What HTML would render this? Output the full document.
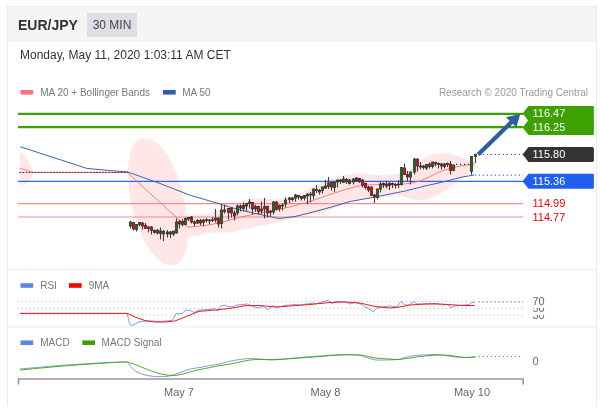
<!DOCTYPE html>
<html><head><meta charset="utf-8"><title>EUR/JPY</title>
<style>
html,body{margin:0;padding:0;background:#fff;}
body{width:600px;height:410px;position:relative;overflow:hidden;font-family:"Liberation Sans",sans-serif;}
.panel{position:absolute;left:7px;top:6px;width:588px;height:399px;border-left:1px solid #e8edf3;border-right:1px solid #e8edf3;border-top:1px solid #e8edf3;box-sizing:content-box;}
.hdr{position:absolute;left:0;top:0;width:588px;height:34.5px;background:#f5f5f5;}
.sym,.tf,.date{will-change:transform;}
.sym{position:absolute;left:18px;top:15.5px;font-size:14px;font-weight:bold;color:#333;line-height:18px;white-space:nowrap;}
.tf{position:absolute;left:87px;top:13px;width:50px;height:23.5px;background:#dcdfe6;color:#444;font-size:12px;line-height:25.5px;text-align:center;white-space:nowrap;}
.date{position:absolute;left:20px;top:47px;font-size:12px;color:#333;line-height:16px;white-space:nowrap;}
</style></head><body>
<div class="panel"><div class="hdr"></div></div>
<div class="sym">EUR/JPY</div>
<div class="tf">30 MIN</div>
<div class="date">Monday, May 11, 2020 1:03:11 AM CET</div>
<svg width="600" height="410" viewBox="0 0 600 410" style="position:absolute;left:0;top:0;will-change:transform" font-family="Liberation Sans, sans-serif">
<!-- separators -->
<rect x="8" y="269.3" width="588" height="1" fill="#e6eaef"/>
<rect x="8" y="326.4" width="588" height="1" fill="#e6eaef"/>
<!-- legends -->
<rect x="20.5" y="90" width="12.7" height="4.6" fill="#f7727c"/>
<text x="40.2" y="95.6" font-size="10" fill="#777">MA 20 + Bollinger Bands</text>
<rect x="163" y="90" width="12.7" height="4.6" fill="#2f5da8"/>
<text x="182.2" y="95.6" font-size="10" fill="#777">MA 50</text>
<text x="588" y="95.6" font-size="10" fill="#999" text-anchor="end">Research © 2020 Trading Central</text>
<!-- bollinger -->
<path d="M20,152 L23,154 L26,157.5 L28.5,160.5 L30.7,165 L32,170 L32.4,172.5 L31.7,177.5 L29,181 L24.5,184.2 L20,185.2Z" fill="#ffe7e7"/>
<path d="M127.5,172 C127.90,168.80 127.80,166.40 129,160 C130.20,153.60 129.60,153.20 132,148 C134.40,142.80 134.53,143.03 138,140.5 C141.47,137.97 141.13,138.63 145,138.5 C148.87,138.37 148.85,138.53 152.5,140 C156.15,141.47 155.15,140.80 158.7,144 C162.25,147.20 162.04,146.40 165.8,152 C169.56,157.60 169.33,157.53 172.8,165 C176.27,172.47 175.89,171.20 178.8,180 C181.71,188.80 181.65,190.00 183.7,198 C185.75,206.00 185.27,205.47 186.5,210 C187.73,214.53 184.70,213.77 188.3,215 C191.90,216.23 194.21,214.97 200,214.6 C205.79,214.23 204.67,215.09 210,213.6 C215.33,212.11 215.73,211.29 220,209 C224.27,206.71 220.67,206.87 226,205 C231.33,203.13 233.60,203.49 240,202 C246.40,200.51 244.67,200.31 250,199.4 C255.33,198.49 254.67,198.71 260,198.6 C265.33,198.49 264.67,198.89 270,199 C275.33,199.11 275.20,199.43 280,199 C284.80,198.57 282.67,199.00 288,197.4 C293.33,195.80 294.13,195.51 300,193 C305.87,190.49 304.67,190.67 310,188 C315.33,185.33 314.67,185.40 320,183 C325.33,180.60 324.67,180.87 330,179 C335.33,177.13 334.67,177.33 340,176 C345.33,174.67 344.67,174.64 350,174 C355.33,173.36 354.67,173.49 360,173.6 C365.33,173.71 364.67,174.03 370,174.4 C375.33,174.77 374.67,174.95 380,175 C385.33,175.05 384.93,175.03 390,174.6 C395.07,174.17 394.20,174.47 399,173.4 C403.80,172.33 403.09,173.11 408,170.6 C412.91,168.09 412.44,167.63 417.4,164 C422.36,160.37 421.72,159.67 426.6,157 C431.48,154.33 430.85,154.99 435.7,154 C440.55,153.01 439.92,153.11 444.8,153.3 C449.68,153.49 449.15,153.47 454,154.7 C458.85,155.93 458.63,156.33 463,157.9 C467.37,159.47 467.20,159.51 470.4,160.6 C473.60,161.69 473.77,161.63 475,162 L475,167 C473.77,168.47 473.60,169.57 470.4,172.5 C467.20,175.43 467.37,174.83 463,178 C458.63,181.17 458.85,180.99 454,184.4 C449.15,187.81 449.68,187.71 444.8,190.8 C439.92,193.89 440.55,193.81 435.7,196 C430.85,198.19 431.48,197.93 426.6,199 C421.72,200.07 422.36,200.27 417.4,200 C412.44,199.73 412.91,199.20 408,198 C403.09,196.80 403.80,196.03 399,195.5 C394.20,194.97 395.07,195.44 390,196 C384.93,196.56 385.33,196.96 380,197.6 C374.67,198.24 375.33,197.76 370,198.4 C364.67,199.04 365.33,198.93 360,200 C354.67,201.07 355.33,200.80 350,202.4 C344.67,204.00 345.33,203.97 340,206 C334.67,208.03 335.33,207.97 330,210 C324.67,212.03 325.33,212.27 320,213.6 C314.67,214.93 315.33,214.23 310,215 C304.67,215.77 305.33,215.43 300,216.5 C294.67,217.57 295.33,217.53 290,219 C284.67,220.47 285.33,220.67 280,222 C274.67,223.33 275.33,222.93 270,224 C264.67,225.07 265.33,224.93 260,226 C254.67,227.07 255.33,226.77 250,228 C244.67,229.23 245.33,229.43 240,230.6 C234.67,231.77 235.33,231.87 230,232.4 C224.67,232.93 225.33,232.44 220,232.6 C214.67,232.76 215.33,232.36 210,233 C204.67,233.64 205.79,233.67 200,235 C194.21,236.33 191.63,235.33 188.3,238 C184.97,240.67 188.38,241.00 187.5,245 C186.62,249.00 186.73,248.87 185,253 C183.27,257.13 183.40,257.49 181,260.5 C178.60,263.51 178.67,263.05 176,264.3 C173.33,265.55 173.67,265.28 171,265.2 C168.33,265.12 168.67,264.99 166,264 C163.33,263.01 165.08,264.97 161,261.5 C156.92,258.03 155.77,257.80 150.7,251 C145.63,244.20 146.08,244.53 142,236 C137.92,227.47 138.60,229.13 135.4,219 C132.20,208.87 131.84,208.13 130,198 C128.16,187.87 129.17,187.93 128.5,181 C127.83,174.07 127.77,174.40 127.5,172 Z" fill="#ffe7e7"/>
<!-- level lines -->
<line x1="18" x2="523" y1="113.8" y2="113.8" stroke="#3fa004" stroke-width="2.2"/>
<line x1="18" x2="523" y1="127.1" y2="127.1" stroke="#3fa004" stroke-width="2.2"/>
<line x1="18" x2="523" y1="203.6" y2="203.6" stroke="#f98a8a" stroke-width="1.1"/>
<line x1="18" x2="523" y1="217" y2="217" stroke="#f98a8a" stroke-width="1.1"/>
<line x1="18" x2="523" y1="181.3" y2="181.3" stroke="#2a66ee" stroke-width="1.25"/>
<!-- MA lines -->
<path d="M20,168.2 L31,171.8 L33,172.4 L127.3,172.4 L175.2,216.4 L188,227.3 L205,225.5 L222,222.5 L235,218.5 L250,215 L270,211 L290,207 L310,201.5 L330,194.5 L345,189.5 L355,186.8 L362,185.3 L375,184.6 L400,184.5 L410,183.3 L420,181 L430,176.5 L440,171.5 L450,168.5 L460,166 L474.5,164" fill="none" stroke="#fa6a6a" stroke-width="0.85"/>
<path d="M20.2,146.7 L86.8,168.4 L110,170.6 L127.3,171.8 L160,183.5 L189.5,195 L220,204 L240,210 L260,214.5 L279,218.5 L295,216.5 L317,211 L335,206 L350,201.5 L375,197 L405,191 L425,186 L445,181.5 L460,177.5 L474,175" fill="none" stroke="#3a66ad" stroke-width="1"/>
<line x1="19.3" x2="128" y1="172.45" y2="172.45" stroke="#6b2226" stroke-width="1" stroke-dasharray="1.8,1.27"/>
<!-- candles -->
<line x1="130.5" x2="130.5" y1="220.5" y2="228.5" stroke="#443a3a" stroke-width="1.1"/>
<rect x="129.3" y="222" width="2.4" height="4.0" fill="#1b6b1b" stroke="#3a3030" stroke-width="0.7"/>
<line x1="133.5" x2="133.5" y1="222" y2="230.5" stroke="#443a3a" stroke-width="1.1"/>
<rect x="132.3" y="222.5" width="2.4" height="6.5" fill="#e60000" stroke="#3a3030" stroke-width="0.7"/>
<line x1="136.5" x2="136.5" y1="224" y2="231.5" stroke="#443a3a" stroke-width="1.1"/>
<rect x="135.3" y="224.5" width="2.4" height="5.0" fill="#1b6b1b" stroke="#3a3030" stroke-width="0.7"/>
<line x1="139.5" x2="139.5" y1="222" y2="226.5" stroke="#443a3a" stroke-width="1.1"/>
<rect x="138.3" y="222.5" width="2.4" height="2.0" fill="#1b6b1b" stroke="#3a3030" stroke-width="0.7"/>
<line x1="142.5" x2="142.5" y1="222" y2="229.5" stroke="#443a3a" stroke-width="1.1"/>
<rect x="141.3" y="223" width="2.4" height="3.0" fill="#e60000" stroke="#3a3030" stroke-width="0.7"/>
<line x1="145.5" x2="145.5" y1="223" y2="229" stroke="#443a3a" stroke-width="1.1"/>
<rect x="144.3" y="225.5" width="2.4" height="3.0" fill="#e60000" stroke="#3a3030" stroke-width="0.7"/>
<line x1="148.5" x2="148.5" y1="226" y2="232.5" stroke="#443a3a" stroke-width="1.1"/>
<rect x="147.3" y="227" width="2.4" height="1.5" fill="#1b6b1b" stroke="#3a3030" stroke-width="0.7"/>
<line x1="151.5" x2="151.5" y1="226" y2="234.5" stroke="#443a3a" stroke-width="1.1"/>
<rect x="150.3" y="227" width="2.4" height="3.5" fill="#e60000" stroke="#3a3030" stroke-width="0.7"/>
<line x1="154.5" x2="154.5" y1="229.5" y2="233.5" stroke="#443a3a" stroke-width="1.1"/>
<rect x="153.3" y="230.5" width="2.4" height="2.0" fill="#e60000" stroke="#3a3030" stroke-width="0.7"/>
<line x1="157.5" x2="157.5" y1="229.5" y2="234.5" stroke="#443a3a" stroke-width="1.1"/>
<rect x="156.3" y="230" width="2.4" height="3.0" fill="#1b6b1b" stroke="#3a3030" stroke-width="0.7"/>
<line x1="160.5" x2="160.5" y1="227.5" y2="239.5" stroke="#443a3a" stroke-width="1.1"/>
<rect x="159.3" y="231" width="2.4" height="2.5" fill="#1b6b1b" stroke="#3a3030" stroke-width="0.7"/>
<line x1="163.5" x2="163.5" y1="230" y2="241" stroke="#443a3a" stroke-width="1.1"/>
<rect x="162.3" y="231.5" width="2.4" height="2.5" fill="#1b6b1b" stroke="#3a3030" stroke-width="0.7"/>
<line x1="167.5" x2="167.5" y1="230" y2="237.5" stroke="#443a3a" stroke-width="1.1"/>
<rect x="166.3" y="232" width="2.4" height="2.0" fill="#1b6b1b" stroke="#3a3030" stroke-width="0.7"/>
<line x1="170.5" x2="170.5" y1="231" y2="238" stroke="#443a3a" stroke-width="1.1"/>
<rect x="169.3" y="232" width="2.4" height="2.0" fill="#1b6b1b" stroke="#3a3030" stroke-width="0.7"/>
<line x1="173.5" x2="173.5" y1="231" y2="236" stroke="#443a3a" stroke-width="1.1"/>
<rect x="172.3" y="231" width="2.4" height="3.0" fill="#1b6b1b" stroke="#3a3030" stroke-width="0.7"/>
<line x1="176.5" x2="176.5" y1="218.5" y2="233.5" stroke="#443a3a" stroke-width="1.1"/>
<rect x="175.3" y="222" width="2.4" height="11.0" fill="#1b6b1b" stroke="#3a3030" stroke-width="0.7"/>
<line x1="179.5" x2="179.5" y1="220" y2="228.5" stroke="#443a3a" stroke-width="1.1"/>
<rect x="178.3" y="221.5" width="2.4" height="2.5" fill="#e60000" stroke="#3a3030" stroke-width="0.7"/>
<line x1="182.5" x2="182.5" y1="219" y2="226.5" stroke="#443a3a" stroke-width="1.1"/>
<rect x="181.3" y="221.5" width="2.4" height="3.0" fill="#e60000" stroke="#3a3030" stroke-width="0.7"/>
<line x1="185.5" x2="185.5" y1="217.5" y2="225.5" stroke="#443a3a" stroke-width="1.1"/>
<rect x="184.3" y="218.5" width="2.4" height="6.0" fill="#1b6b1b" stroke="#3a3030" stroke-width="0.7"/>
<line x1="188.5" x2="188.5" y1="217" y2="221" stroke="#443a3a" stroke-width="1.1"/>
<rect x="187.3" y="217.5" width="2.4" height="1.5" fill="#1b6b1b" stroke="#3a3030" stroke-width="0.7"/>
<line x1="191.5" x2="191.5" y1="216" y2="223.5" stroke="#443a3a" stroke-width="1.1"/>
<rect x="190.3" y="217" width="2.4" height="5.0" fill="#e60000" stroke="#3a3030" stroke-width="0.7"/>
<line x1="194.5" x2="194.5" y1="220.5" y2="226.5" stroke="#443a3a" stroke-width="1.1"/>
<rect x="193.3" y="222" width="2.4" height="1.5" fill="#e60000" stroke="#3a3030" stroke-width="0.7"/>
<line x1="197.5" x2="197.5" y1="219" y2="224" stroke="#443a3a" stroke-width="1.1"/>
<rect x="196.3" y="220.5" width="2.4" height="2.5" fill="#1b6b1b" stroke="#3a3030" stroke-width="0.7"/>
<line x1="200.5" x2="200.5" y1="219" y2="225.5" stroke="#443a3a" stroke-width="1.1"/>
<rect x="199.3" y="220.5" width="2.4" height="2.5" fill="#e60000" stroke="#3a3030" stroke-width="0.7"/>
<line x1="203.5" x2="203.5" y1="219" y2="226.5" stroke="#443a3a" stroke-width="1.1"/>
<rect x="202.3" y="220" width="2.4" height="2.5" fill="#1b6b1b" stroke="#3a3030" stroke-width="0.7"/>
<line x1="206.5" x2="206.5" y1="218" y2="222.5" stroke="#443a3a" stroke-width="1.1"/>
<rect x="205.3" y="219.7" width="2.4" height="0.8" fill="#5a2a2a" stroke="#3a3030" stroke-width="0.7"/>
<line x1="209.5" x2="209.5" y1="219" y2="224" stroke="#443a3a" stroke-width="1.1"/>
<rect x="208.3" y="220" width="2.4" height="1.0" fill="#e60000" stroke="#3a3030" stroke-width="0.7"/>
<line x1="212.5" x2="212.5" y1="217" y2="222" stroke="#443a3a" stroke-width="1.1"/>
<rect x="211.3" y="219.7" width="2.4" height="0.8" fill="#1b6b1b" stroke="#3a3030" stroke-width="0.7"/>
<line x1="215.5" x2="215.5" y1="209" y2="222.5" stroke="#443a3a" stroke-width="1.1"/>
<rect x="214.3" y="218" width="2.4" height="2.0" fill="#1b6b1b" stroke="#3a3030" stroke-width="0.7"/>
<line x1="218.5" x2="218.5" y1="217.5" y2="227.5" stroke="#443a3a" stroke-width="1.1"/>
<rect x="217.3" y="218" width="2.4" height="6.0" fill="#e60000" stroke="#3a3030" stroke-width="0.7"/>
<line x1="221.5" x2="221.5" y1="204" y2="228.5" stroke="#443a3a" stroke-width="1.1"/>
<rect x="220.3" y="210" width="2.4" height="13.5" fill="#1b6b1b" stroke="#3a3030" stroke-width="0.7"/>
<line x1="224.5" x2="224.5" y1="204.5" y2="213.5" stroke="#443a3a" stroke-width="1.1"/>
<rect x="223.3" y="210" width="2.4" height="1.5" fill="#e60000" stroke="#3a3030" stroke-width="0.7"/>
<line x1="228.5" x2="228.5" y1="208" y2="219.5" stroke="#443a3a" stroke-width="1.1"/>
<rect x="227.3" y="208.5" width="2.4" height="4.0" fill="#1b6b1b" stroke="#3a3030" stroke-width="0.7"/>
<line x1="231.5" x2="231.5" y1="207" y2="217.5" stroke="#443a3a" stroke-width="1.1"/>
<rect x="230.3" y="208" width="2.4" height="5.0" fill="#e60000" stroke="#3a3030" stroke-width="0.7"/>
<line x1="234.5" x2="234.5" y1="210.5" y2="220.5" stroke="#443a3a" stroke-width="1.1"/>
<rect x="233.3" y="213" width="2.4" height="3.0" fill="#5a2a2a" stroke="#3a3030" stroke-width="0.7"/>
<line x1="237.5" x2="237.5" y1="204.5" y2="215.5" stroke="#443a3a" stroke-width="1.1"/>
<rect x="236.3" y="206" width="2.4" height="7.0" fill="#1b6b1b" stroke="#3a3030" stroke-width="0.7"/>
<line x1="240.5" x2="240.5" y1="204.5" y2="211.5" stroke="#443a3a" stroke-width="1.1"/>
<rect x="239.3" y="206" width="2.4" height="2.0" fill="#5a2a2a" stroke="#3a3030" stroke-width="0.7"/>
<line x1="243.5" x2="243.5" y1="202.5" y2="211.5" stroke="#443a3a" stroke-width="1.1"/>
<rect x="242.3" y="205.5" width="2.4" height="3.0" fill="#5a2a2a" stroke="#3a3030" stroke-width="0.7"/>
<line x1="246.5" x2="246.5" y1="203" y2="211" stroke="#443a3a" stroke-width="1.1"/>
<rect x="245.3" y="203.5" width="2.4" height="2.5" fill="#1b6b1b" stroke="#3a3030" stroke-width="0.7"/>
<line x1="249.5" x2="249.5" y1="199" y2="208.5" stroke="#443a3a" stroke-width="1.1"/>
<rect x="248.3" y="202" width="2.4" height="1.5" fill="#1b6b1b" stroke="#3a3030" stroke-width="0.7"/>
<line x1="252.5" x2="252.5" y1="202" y2="214.5" stroke="#443a3a" stroke-width="1.1"/>
<rect x="251.3" y="202.5" width="2.4" height="6.5" fill="#e60000" stroke="#3a3030" stroke-width="0.7"/>
<line x1="255.5" x2="255.5" y1="204.5" y2="212" stroke="#443a3a" stroke-width="1.1"/>
<rect x="254.3" y="206.5" width="2.4" height="2.5" fill="#1b6b1b" stroke="#3a3030" stroke-width="0.7"/>
<line x1="258.5" x2="258.5" y1="205.5" y2="214.5" stroke="#443a3a" stroke-width="1.1"/>
<rect x="257.3" y="206.5" width="2.4" height="5.0" fill="#e60000" stroke="#3a3030" stroke-width="0.7"/>
<line x1="261.5" x2="261.5" y1="201.5" y2="214" stroke="#443a3a" stroke-width="1.1"/>
<rect x="260.3" y="209" width="2.4" height="2.0" fill="#1b6b1b" stroke="#3a3030" stroke-width="0.7"/>
<line x1="264.5" x2="264.5" y1="198" y2="218.5" stroke="#443a3a" stroke-width="1.1"/>
<rect x="263.3" y="206.5" width="2.4" height="2.5" fill="#1b6b1b" stroke="#3a3030" stroke-width="0.7"/>
<line x1="267.5" x2="267.5" y1="205.5" y2="217.5" stroke="#443a3a" stroke-width="1.1"/>
<rect x="266.3" y="206.5" width="2.4" height="6.5" fill="#e60000" stroke="#3a3030" stroke-width="0.7"/>
<line x1="270.5" x2="270.5" y1="210" y2="216.5" stroke="#443a3a" stroke-width="1.1"/>
<rect x="269.3" y="211.6" width="2.4" height="0.8" fill="#1b6b1b" stroke="#3a3030" stroke-width="0.7"/>
<line x1="273.5" x2="273.5" y1="201" y2="214.5" stroke="#443a3a" stroke-width="1.1"/>
<rect x="272.3" y="202" width="2.4" height="10.0" fill="#1b6b1b" stroke="#3a3030" stroke-width="0.7"/>
<line x1="276.5" x2="276.5" y1="201" y2="210.5" stroke="#443a3a" stroke-width="1.1"/>
<rect x="275.3" y="202" width="2.4" height="7.5" fill="#e60000" stroke="#3a3030" stroke-width="0.7"/>
<line x1="279.5" x2="279.5" y1="204.5" y2="211.5" stroke="#443a3a" stroke-width="1.1"/>
<rect x="278.3" y="205.5" width="2.4" height="3.0" fill="#1b6b1b" stroke="#3a3030" stroke-width="0.7"/>
<line x1="282.5" x2="282.5" y1="203.5" y2="210.5" stroke="#443a3a" stroke-width="1.1"/>
<rect x="281.3" y="205.1" width="2.4" height="0.8" fill="#1b6b1b" stroke="#3a3030" stroke-width="0.7"/>
<line x1="285.5" x2="285.5" y1="197.5" y2="207.5" stroke="#443a3a" stroke-width="1.1"/>
<rect x="284.3" y="200" width="2.4" height="4.0" fill="#1b6b1b" stroke="#3a3030" stroke-width="0.7"/>
<line x1="289.5" x2="289.5" y1="197" y2="203" stroke="#443a3a" stroke-width="1.1"/>
<rect x="288.3" y="198" width="2.4" height="1.5" fill="#1b6b1b" stroke="#3a3030" stroke-width="0.7"/>
<line x1="292.5" x2="292.5" y1="197" y2="201.5" stroke="#443a3a" stroke-width="1.1"/>
<rect x="291.3" y="198" width="2.4" height="1.5" fill="#5a2a2a" stroke="#3a3030" stroke-width="0.7"/>
<line x1="295.5" x2="295.5" y1="194" y2="201.5" stroke="#443a3a" stroke-width="1.1"/>
<rect x="294.3" y="195" width="2.4" height="3.0" fill="#1b6b1b" stroke="#3a3030" stroke-width="0.7"/>
<line x1="298.5" x2="298.5" y1="195" y2="199.5" stroke="#443a3a" stroke-width="1.1"/>
<rect x="297.3" y="195.5" width="2.4" height="1.5" fill="#5a2a2a" stroke="#3a3030" stroke-width="0.7"/>
<line x1="301.5" x2="301.5" y1="196" y2="200.5" stroke="#443a3a" stroke-width="1.1"/>
<rect x="300.3" y="196.5" width="2.4" height="2.0" fill="#5a2a2a" stroke="#3a3030" stroke-width="0.7"/>
<line x1="304.5" x2="304.5" y1="195" y2="200.5" stroke="#443a3a" stroke-width="1.1"/>
<rect x="303.3" y="195.5" width="2.4" height="2.5" fill="#1b6b1b" stroke="#3a3030" stroke-width="0.7"/>
<line x1="307.5" x2="307.5" y1="193" y2="204.5" stroke="#443a3a" stroke-width="1.1"/>
<rect x="306.3" y="194.5" width="2.4" height="1.5" fill="#1b6b1b" stroke="#3a3030" stroke-width="0.7"/>
<line x1="310.5" x2="310.5" y1="192" y2="202.5" stroke="#443a3a" stroke-width="1.1"/>
<rect x="309.3" y="194" width="2.4" height="1.0" fill="#5a2a2a" stroke="#3a3030" stroke-width="0.7"/>
<line x1="313.5" x2="313.5" y1="188.5" y2="199.5" stroke="#443a3a" stroke-width="1.1"/>
<rect x="312.3" y="189" width="2.4" height="6.5" fill="#1b6b1b" stroke="#3a3030" stroke-width="0.7"/>
<line x1="316.5" x2="316.5" y1="185" y2="193" stroke="#443a3a" stroke-width="1.1"/>
<rect x="315.3" y="189.5" width="2.4" height="1.0" fill="#e60000" stroke="#3a3030" stroke-width="0.7"/>
<line x1="319.5" x2="319.5" y1="189" y2="194.5" stroke="#443a3a" stroke-width="1.1"/>
<rect x="318.3" y="190.5" width="2.4" height="1.5" fill="#5a2a2a" stroke="#3a3030" stroke-width="0.7"/>
<line x1="322.5" x2="322.5" y1="186.5" y2="193.5" stroke="#443a3a" stroke-width="1.1"/>
<rect x="321.3" y="187" width="2.4" height="3.5" fill="#1b6b1b" stroke="#3a3030" stroke-width="0.7"/>
<line x1="325.5" x2="325.5" y1="180" y2="189" stroke="#443a3a" stroke-width="1.1"/>
<rect x="324.3" y="186" width="2.4" height="2.0" fill="#5a2a2a" stroke="#3a3030" stroke-width="0.7"/>
<line x1="328.5" x2="328.5" y1="177" y2="189" stroke="#443a3a" stroke-width="1.1"/>
<rect x="327.3" y="183" width="2.4" height="3.5" fill="#1b6b1b" stroke="#3a3030" stroke-width="0.7"/>
<line x1="331.5" x2="331.5" y1="182" y2="190.5" stroke="#443a3a" stroke-width="1.1"/>
<rect x="330.3" y="182.5" width="2.4" height="4.5" fill="#e60000" stroke="#3a3030" stroke-width="0.7"/>
<line x1="334.5" x2="334.5" y1="182" y2="192" stroke="#443a3a" stroke-width="1.1"/>
<rect x="333.3" y="182.5" width="2.4" height="5.0" fill="#1b6b1b" stroke="#3a3030" stroke-width="0.7"/>
<line x1="337.5" x2="337.5" y1="179.5" y2="187.5" stroke="#443a3a" stroke-width="1.1"/>
<rect x="336.3" y="180" width="2.4" height="2.0" fill="#1b6b1b" stroke="#3a3030" stroke-width="0.7"/>
<line x1="340.5" x2="340.5" y1="179" y2="184" stroke="#443a3a" stroke-width="1.1"/>
<rect x="339.3" y="180" width="2.4" height="1.0" fill="#5a2a2a" stroke="#3a3030" stroke-width="0.7"/>
<line x1="343.5" x2="343.5" y1="176" y2="182.5" stroke="#443a3a" stroke-width="1.1"/>
<rect x="342.3" y="179" width="2.4" height="3.5" fill="#1b6b1b" stroke="#3a3030" stroke-width="0.7"/>
<line x1="346.5" x2="346.5" y1="178" y2="184" stroke="#443a3a" stroke-width="1.1"/>
<rect x="345.3" y="179.5" width="2.4" height="2.0" fill="#e60000" stroke="#3a3030" stroke-width="0.7"/>
<line x1="349.5" x2="349.5" y1="179" y2="184.5" stroke="#443a3a" stroke-width="1.1"/>
<rect x="348.3" y="180" width="2.4" height="3.5" fill="#5a2a2a" stroke="#3a3030" stroke-width="0.7"/>
<line x1="353.5" x2="353.5" y1="178" y2="184.5" stroke="#443a3a" stroke-width="1.1"/>
<rect x="352.3" y="179" width="2.4" height="3.0" fill="#1b6b1b" stroke="#3a3030" stroke-width="0.7"/>
<line x1="356.5" x2="356.5" y1="177" y2="182" stroke="#443a3a" stroke-width="1.1"/>
<rect x="355.3" y="178" width="2.4" height="3.0" fill="#5a2a2a" stroke="#3a3030" stroke-width="0.7"/>
<line x1="359.5" x2="359.5" y1="178" y2="183" stroke="#443a3a" stroke-width="1.1"/>
<rect x="358.3" y="178.5" width="2.4" height="3.0" fill="#5a2a2a" stroke="#3a3030" stroke-width="0.7"/>
<line x1="362.5" x2="362.5" y1="179" y2="187.5" stroke="#443a3a" stroke-width="1.1"/>
<rect x="361.3" y="180" width="2.4" height="5.0" fill="#e60000" stroke="#3a3030" stroke-width="0.7"/>
<line x1="365.5" x2="365.5" y1="182.5" y2="189.5" stroke="#443a3a" stroke-width="1.1"/>
<rect x="364.3" y="183.5" width="2.4" height="4.0" fill="#e60000" stroke="#3a3030" stroke-width="0.7"/>
<line x1="368.5" x2="368.5" y1="186" y2="192" stroke="#443a3a" stroke-width="1.1"/>
<rect x="367.3" y="187" width="2.4" height="3.0" fill="#5a2a2a" stroke="#3a3030" stroke-width="0.7"/>
<line x1="371.5" x2="371.5" y1="186.5" y2="196" stroke="#443a3a" stroke-width="1.1"/>
<rect x="370.3" y="187" width="2.4" height="8.5" fill="#e60000" stroke="#3a3030" stroke-width="0.7"/>
<line x1="374.5" x2="374.5" y1="194" y2="203" stroke="#443a3a" stroke-width="1.1"/>
<rect x="373.3" y="195" width="2.4" height="2.0" fill="#e60000" stroke="#3a3030" stroke-width="0.7"/>
<line x1="377.5" x2="377.5" y1="188.5" y2="199.5" stroke="#443a3a" stroke-width="1.1"/>
<rect x="376.3" y="189" width="2.4" height="8.5" fill="#1b6b1b" stroke="#3a3030" stroke-width="0.7"/>
<line x1="380.5" x2="380.5" y1="182" y2="192.5" stroke="#443a3a" stroke-width="1.1"/>
<rect x="379.3" y="184" width="2.4" height="5.0" fill="#1b6b1b" stroke="#3a3030" stroke-width="0.7"/>
<line x1="383.5" x2="383.5" y1="182.5" y2="188" stroke="#443a3a" stroke-width="1.1"/>
<rect x="382.3" y="183.5" width="2.4" height="1.5" fill="#5a2a2a" stroke="#3a3030" stroke-width="0.7"/>
<line x1="386.5" x2="386.5" y1="180.5" y2="188.5" stroke="#443a3a" stroke-width="1.1"/>
<rect x="385.3" y="184" width="2.4" height="2.0" fill="#e60000" stroke="#3a3030" stroke-width="0.7"/>
<line x1="389.5" x2="389.5" y1="182" y2="190" stroke="#443a3a" stroke-width="1.1"/>
<rect x="388.3" y="183.5" width="2.4" height="2.0" fill="#5a2a2a" stroke="#3a3030" stroke-width="0.7"/>
<line x1="392.5" x2="392.5" y1="182.5" y2="188" stroke="#443a3a" stroke-width="1.1"/>
<rect x="391.3" y="183.5" width="2.4" height="1.0" fill="#e60000" stroke="#3a3030" stroke-width="0.7"/>
<line x1="395.5" x2="395.5" y1="183" y2="188.5" stroke="#443a3a" stroke-width="1.1"/>
<rect x="394.3" y="184.6" width="2.4" height="0.8" fill="#e60000" stroke="#3a3030" stroke-width="0.7"/>
<line x1="398.5" x2="398.5" y1="180" y2="188" stroke="#443a3a" stroke-width="1.1"/>
<rect x="397.3" y="184.1" width="2.4" height="0.8" fill="#5a2a2a" stroke="#3a3030" stroke-width="0.7"/>
<line x1="401.5" x2="401.5" y1="167" y2="185.5" stroke="#443a3a" stroke-width="1.1"/>
<rect x="400.3" y="167.5" width="2.4" height="17.0" fill="#1b6b1b" stroke="#3a3030" stroke-width="0.7"/>
<line x1="404.5" x2="404.5" y1="163.5" y2="175" stroke="#443a3a" stroke-width="1.1"/>
<rect x="403.3" y="168" width="2.4" height="6.5" fill="#e60000" stroke="#3a3030" stroke-width="0.7"/>
<line x1="407.5" x2="407.5" y1="171" y2="181" stroke="#443a3a" stroke-width="1.1"/>
<rect x="406.3" y="174.5" width="2.4" height="2.5" fill="#e60000" stroke="#3a3030" stroke-width="0.7"/>
<line x1="410.5" x2="410.5" y1="171.5" y2="184.5" stroke="#443a3a" stroke-width="1.1"/>
<rect x="409.3" y="172" width="2.4" height="5.0" fill="#1b6b1b" stroke="#3a3030" stroke-width="0.7"/>
<line x1="414.5" x2="414.5" y1="158" y2="174.5" stroke="#443a3a" stroke-width="1.1"/>
<rect x="413.3" y="159" width="2.4" height="13.0" fill="#1b6b1b" stroke="#3a3030" stroke-width="0.7"/>
<line x1="417.5" x2="417.5" y1="158.5" y2="171.5" stroke="#443a3a" stroke-width="1.1"/>
<rect x="416.3" y="159" width="2.4" height="7.0" fill="#e60000" stroke="#3a3030" stroke-width="0.7"/>
<line x1="420.5" x2="420.5" y1="162" y2="169.5" stroke="#443a3a" stroke-width="1.1"/>
<rect x="419.3" y="166" width="2.4" height="1.0" fill="#5a2a2a" stroke="#3a3030" stroke-width="0.7"/>
<line x1="423.5" x2="423.5" y1="165" y2="169.5" stroke="#443a3a" stroke-width="1.1"/>
<rect x="422.3" y="166" width="2.4" height="1.5" fill="#5a2a2a" stroke="#3a3030" stroke-width="0.7"/>
<line x1="426.5" x2="426.5" y1="164" y2="170" stroke="#443a3a" stroke-width="1.1"/>
<rect x="425.3" y="164.5" width="2.4" height="3.5" fill="#1b6b1b" stroke="#3a3030" stroke-width="0.7"/>
<line x1="429.5" x2="429.5" y1="162.5" y2="168.5" stroke="#443a3a" stroke-width="1.1"/>
<rect x="428.3" y="164" width="2.4" height="2.5" fill="#e60000" stroke="#3a3030" stroke-width="0.7"/>
<line x1="432.5" x2="432.5" y1="161.5" y2="168.5" stroke="#443a3a" stroke-width="1.1"/>
<rect x="431.3" y="162" width="2.4" height="4.5" fill="#1b6b1b" stroke="#3a3030" stroke-width="0.7"/>
<line x1="435.5" x2="435.5" y1="161.5" y2="166.5" stroke="#443a3a" stroke-width="1.1"/>
<rect x="434.3" y="162.5" width="2.4" height="1.5" fill="#e60000" stroke="#3a3030" stroke-width="0.7"/>
<line x1="438.5" x2="438.5" y1="162.5" y2="168.5" stroke="#443a3a" stroke-width="1.1"/>
<rect x="437.3" y="163.6" width="2.4" height="0.8" fill="#5a2a2a" stroke="#3a3030" stroke-width="0.7"/>
<line x1="441.5" x2="441.5" y1="163" y2="169.5" stroke="#443a3a" stroke-width="1.1"/>
<rect x="440.3" y="164" width="2.4" height="2.0" fill="#e60000" stroke="#3a3030" stroke-width="0.7"/>
<line x1="444.5" x2="444.5" y1="163" y2="168.5" stroke="#443a3a" stroke-width="1.1"/>
<rect x="443.3" y="164" width="2.4" height="2.5" fill="#1b6b1b" stroke="#3a3030" stroke-width="0.7"/>
<line x1="447.5" x2="447.5" y1="162.5" y2="167" stroke="#443a3a" stroke-width="1.1"/>
<rect x="446.3" y="163.6" width="2.4" height="0.8" fill="#5a2a2a" stroke="#3a3030" stroke-width="0.7"/>
<line x1="450.5" x2="450.5" y1="161" y2="174.5" stroke="#443a3a" stroke-width="1.1"/>
<rect x="449.3" y="164" width="2.4" height="6.5" fill="#e60000" stroke="#3a3030" stroke-width="0.7"/>
<line x1="453.5" x2="453.5" y1="164.5" y2="171" stroke="#443a3a" stroke-width="1.1"/>
<rect x="452.3" y="165" width="2.4" height="5.5" fill="#1b6b1b" stroke="#3a3030" stroke-width="0.7"/>
<line x1="471.5" x2="471.5" y1="156" y2="174.8" stroke="#443a3a" stroke-width="1.1"/>
<rect x="470.3" y="156.6" width="2.4" height="14.9" fill="#1b6b1b" stroke="#3a3030" stroke-width="0.7"/>
<line x1="475.5" x2="475.5" y1="154" y2="163" stroke="#443a3a" stroke-width="1.1"/>
<rect x="474.3" y="154.2" width="2.4" height="2.2" fill="#1b6b1b" stroke="#3a3030" stroke-width="0.7"/>
<line x1="456" x2="471" y1="164.3" y2="164.3" stroke="#333" stroke-width="1.2" stroke-dasharray="1.2,2.8"/>
<line x1="482.8" x2="523" y1="154.5" y2="154.5" stroke="#554c4c" stroke-width="1.15" stroke-dasharray="1.2,2.8"/>
<line x1="474.7" x2="523" y1="175.1" y2="175.1" stroke="#3b74e8" stroke-width="1.15" stroke-dasharray="1.2,2.8"/>
<!-- arrow -->
<line x1="478.2" y1="154.4" x2="512" y2="121.6" stroke="#2d5c9f" stroke-width="4.2"/>
<path d="M520.2,113.9 L506,117.2 L516.4,127.3 Z" fill="#2d5c9f"/>
<!-- tags -->
<path d="M522.6,113.5 L528.5,106.0 L593.9,106.0 Q593.9,106.0 593.9,106.0 L593.9,121.0 Q593.9,121.0 593.9,121.0 L528.5,121.0 Z" fill="#3fa004"/><text x="532.5" y="117.4" fill="#fff" font-size="11">116.47</text>
<path d="M522.6,127.4 L528.5,119.9 L593.9,119.9 Q593.9,119.9 593.9,119.9 L593.9,134.9 Q593.9,134.9 593.9,134.9 L528.5,134.9 Z" fill="#3fa004"/><text x="532.5" y="131.3" fill="#fff" font-size="11">116.25</text>
<path d="M522.6,154.5 L528.5,147.0 L592.1,147.0 Q593.9,147.0 593.9,148.8 L593.9,160.2 Q593.9,162.0 592.1,162.0 L528.5,162.0 Z" fill="#333"/><text x="532.5" y="158.4" fill="#fff" font-size="11">115.80</text>
<path d="M522.6,181.2 L528.5,173.7 L592.6999999999999,173.7 Q593.9,173.7 593.9,174.89999999999998 L593.9,187.5 Q593.9,188.7 592.6999999999999,188.7 L528.5,188.7 Z" fill="#1f5ff0"/><text x="532.5" y="185.1" fill="#fff" font-size="11">115.36</text>
<text x="532.5" y="206.7" font-size="11" fill="#f00000">114.99</text>
<text x="532.5" y="221" font-size="11" fill="#f00000">114.77</text>
<!-- RSI -->
<rect x="20.5" y="283.2" width="12.7" height="4.6" fill="#5b86e5"/>
<text x="40.2" y="289" font-size="10" fill="#777">RSI</text>
<rect x="69" y="283.2" width="12.7" height="4.6" fill="#f00"/>
<text x="88.7" y="289" font-size="10" fill="#777">9MA</text>
<g stroke="#bbb" stroke-width="1" stroke-dasharray="1,3">
<line x1="17.9" x2="523.5" y1="301.5" y2="301.5"/>
<line x1="17.9" x2="523.5" y1="308.4" y2="308.4"/>
<line x1="17.9" x2="523.5" y1="315.2" y2="315.2"/>
</g>
<path d="M20,313.4 L127.4,313.4 L128.5,320 L130,324.4 L132,325.5 L135,324 L140,321.5 L150,321 L160,321.5 L172,320.5 L175,316 L176,313.5 L182,313.5 L186,310 L190,310.5 L194,312.5 L197,311 L200,310 L210,309.5 L214,308.5 L218,311 L221,306 L224,305 L228,306.5 L232,307 L237,305 L248,304 L252,306 L258,308 L263,306.5 L268,309.5 L273,305.5 L277,307.5 L285,305.5 L295,304.5 L300,305 L313,303 L316,304 L322,302 L328,300.5 L332,303.5 L336,301.5 L345,301.8 L350,304 L355,302.5 L362,304.5 L365,307 L368,308 L373,312 L378,307.5 L385,306.5 L390,306 L397,307 L401,301.5 L405,305 L409,305 L414,301.5 L417,304 L425,304 L430,303.5 L437,303.5 L442,305 L448,304.5 L451,308 L454,306 L465,305 L469.3,304.5 L471.5,302.6 L475.3,302" fill="none" stroke="#6a94ee" stroke-width="0.9" stroke-linejoin="round"/>
<path d="M20,313.4 L127.4,313.4 L135,317 L145,320.5 L155,322 L165,322 L175,321 L185,317 L199,311.4 L215,310 L230,308.4 L245,305.7 L260,305.5 L275,307 L290,306 L310,304.5 L330,302.5 L345,302 L360,303 L375,306.5 L390,308 L400,307 L410,305 L425,304 L440,304 L455,305 L465,305.5 L474.7,305.5" fill="none" stroke="#f01818" stroke-width="1.0" stroke-linejoin="round"/>
<line x1="478.7" x2="523" y1="302" y2="302" stroke="#5b86e5" stroke-width="1.15" stroke-dasharray="1.2,2.8"/>
<text x="532.5" y="319.4" font-size="11" fill="#666">30</text>
<rect x="530" y="301" width="20" height="14" fill="#fff"/>
<text x="532.5" y="312.4" font-size="11" fill="#666">50</text>
<rect x="530" y="294" width="20" height="14" fill="#fff"/>
<text x="532.5" y="305.2" font-size="11" fill="#666">70</text>
<!-- MACD -->
<rect x="20.5" y="340.4" width="12.7" height="4.6" fill="#5b86e5"/>
<text x="40.2" y="346.3" font-size="10" fill="#777">MACD</text>
<rect x="82.3" y="340.4" width="12.7" height="4.6" fill="#3fa004"/>
<text x="101.6" y="346.3" font-size="10" fill="#777">MACD Signal</text>
<path d="M20,369 C26.67,368.42 46.67,366.50 60,365.5 C73.33,364.50 90.00,363.57 100,363 C110.00,362.43 115.67,362.27 120,362.1 C124.33,361.93 124.67,361.88 126,362 C127.33,362.12 127.33,362.22 128,362.8 C128.67,363.38 129.33,364.63 130,365.5 C130.67,366.37 130.83,366.92 132,368 C133.17,369.08 134.83,370.83 137,372 C139.17,373.17 142.00,374.25 145,375 C148.00,375.75 151.67,376.25 155,376.5 C158.33,376.75 162.17,376.67 165,376.5 C167.83,376.33 169.50,376.17 172,375.5 C174.50,374.83 177.00,373.58 180,372.5 C183.00,371.42 186.67,369.83 190,369 C193.33,368.17 196.67,368.08 200,367.5 C203.33,366.92 206.67,366.08 210,365.5 C213.33,364.92 217.00,364.67 220,364 C223.00,363.33 224.67,362.25 228,361.5 C231.33,360.75 236.33,360.00 240,359.5 C243.67,359.00 246.67,358.58 250,358.5 C253.33,358.42 256.67,358.75 260,359 C263.33,359.25 266.67,359.92 270,360 C273.33,360.08 276.67,359.75 280,359.5 C283.33,359.25 286.67,358.83 290,358.5 C293.33,358.17 295.00,357.92 300,357.5 C305.00,357.08 314.17,356.42 320,356 C325.83,355.58 330.83,355.25 335,355 C339.17,354.75 340.83,354.42 345,354.5 C349.17,354.58 356.17,354.92 360,355.5 C363.83,356.08 365.33,357.25 368,358 C370.67,358.75 373.17,359.67 376,360 C378.83,360.33 381.33,360.08 385,360 C388.67,359.92 394.67,359.92 398,359.5 C401.33,359.08 402.17,358.17 405,357.5 C407.83,356.83 411.67,355.92 415,355.5 C418.33,355.08 421.67,355.17 425,355 C428.33,354.83 431.67,354.42 435,354.5 C438.33,354.58 441.67,355.08 445,355.5 C448.33,355.92 451.67,356.67 455,357 C458.33,357.33 462.17,357.50 465,357.5 C467.83,357.50 470.25,357.17 472,357 C473.75,356.83 474.92,356.58 475.5,356.5" fill="none" stroke="#6a94ee" stroke-width="0.9" stroke-linejoin="round"/>
<path d="M20,370 C26.67,369.38 46.67,367.42 60,366.3 C73.33,365.18 90.00,363.98 100,363.3 C110.00,362.62 115.50,362.42 120,362.2 C124.50,361.98 125.33,361.90 127,362 C128.67,362.10 128.67,362.38 130,362.8 C131.33,363.22 132.50,363.55 135,364.5 C137.50,365.45 141.67,367.22 145,368.5 C148.33,369.78 152.50,371.33 155,372.2 C157.50,373.07 158.33,373.27 160,373.7 C161.67,374.13 163.33,374.52 165,374.8 C166.67,375.08 168.33,375.30 170,375.4 C171.67,375.50 173.33,375.52 175,375.4 C176.67,375.28 178.33,375.02 180,374.7 C181.67,374.38 183.33,373.95 185,373.5 C186.67,373.05 187.50,372.67 190,372 C192.50,371.33 196.67,370.25 200,369.5 C203.33,368.75 206.67,368.17 210,367.5 C213.33,366.83 216.67,366.08 220,365.5 C223.33,364.92 226.67,364.58 230,364 C233.33,363.42 236.67,362.67 240,362 C243.33,361.33 246.67,360.42 250,360 C253.33,359.58 256.67,359.58 260,359.5 C263.33,359.42 265.83,359.58 270,359.5 C274.17,359.42 280.00,359.25 285,359 C290.00,358.75 294.17,358.42 300,358 C305.83,357.58 313.33,357.00 320,356.5 C326.67,356.00 333.33,355.25 340,355 C346.67,354.75 355.00,354.67 360,355 C365.00,355.33 366.67,356.42 370,357 C373.33,357.58 376.67,358.17 380,358.5 C383.33,358.83 387.00,358.83 390,359 C393.00,359.17 394.67,359.67 398,359.5 C401.33,359.33 406.33,358.50 410,358 C413.67,357.50 416.67,356.92 420,356.5 C423.33,356.08 426.67,355.75 430,355.5 C433.33,355.25 436.67,355.00 440,355 C443.33,355.00 445.83,355.08 450,355.5 C454.17,355.92 460.75,357.25 465,357.5 C469.25,357.75 473.75,357.08 475.5,357" fill="none" stroke="#3fa004" stroke-width="0.9" stroke-linejoin="round"/>
<line x1="478.7" x2="523" y1="356.5" y2="356.5" stroke="#5b86e5" stroke-width="1.15" stroke-dasharray="1.2,2.8"/>
<text x="532.5" y="364.8" font-size="11" fill="#666">0</text>
<!-- axis -->
<path d="M18.5,384.5 L18.5,379 L523.2,379 L523.2,384.5" fill="none" stroke="#999" stroke-width="1.6"/>
<text x="179" y="395.8" font-size="11" fill="#666" text-anchor="middle">May 7</text>
<text x="325.5" y="395.8" font-size="11" fill="#666" text-anchor="middle">May 8</text>
<text x="472" y="395.8" font-size="11" fill="#666" text-anchor="middle">May 10</text>
</svg>
</body></html>
